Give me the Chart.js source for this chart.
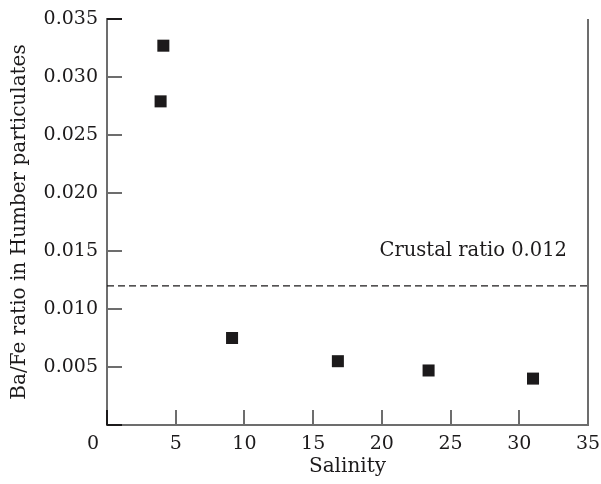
<!DOCTYPE html>
<html>
<head>
<meta charset="utf-8">
<script src="https://cdn.jsdelivr.net/npm/chart.js@4/dist/chart.umd.min.js"></script>
<style>
  html, body { margin: 0; padding: 0; background: #fff; }
  #wrap { width: 601px; height: 484px; }
</style>
</head>
<body>
<div id="wrap"><canvas id="chart"></canvas></div>
<script>
// salinity vs Ba/Fe ratio
const salinity = [4.1, 3.9, 9.1, 16.8, 23.4, 31.0]
const baFeRatio = [0.0327, 0.0279, 0.0075, 0.0055, 0.0047, 0.0040]
const crustalRatio = 0.012
const crustalLabel = 'Crustal ratio 0.012'
const xTicks = [0, 5, 10, 15, 20, 25, 30, 35]
const yTicks = [0, 0.005, 0.010, 0.015, 0.020, 0.025, 0.030, 0.035]

const ink = '#1c1a1b'
const axisGrey = '#6d6d6d'
const tickFont = { family: 'DejaVu Serif', size: 19 }
const titleFont = { family: 'DejaVu Serif', size: 20 }

// inside tick marks, right-hand frame line, corner "0" and the crustal label
const framePlugin = {
  id: 'frame',
  afterDraw(chart) {
    const { ctx, chartArea: a, scales: { x, y } } = chart
    ctx.save()
    ctx.lineWidth = 2
    yTicks.forEach(v => {
      const py = Math.round(y.getPixelForValue(v))
      ctx.strokeStyle = (v === 0 || v === 0.035) ? ink : axisGrey
      ctx.beginPath()
      ctx.moveTo(a.left, py)
      ctx.lineTo(a.left + 15, py)
      ctx.stroke()
    })
    xTicks.forEach(v => {
      const px = Math.round(x.getPixelForValue(v))
      ctx.strokeStyle = v === 0 ? ink : axisGrey
      ctx.beginPath()
      ctx.moveTo(px, a.bottom)
      ctx.lineTo(px, a.bottom - 15)
      ctx.stroke()
    })
    ctx.strokeStyle = axisGrey
    ctx.beginPath()
    ctx.moveTo(a.right, a.top)
    ctx.lineTo(a.right, a.bottom)
    ctx.stroke()

    ctx.fillStyle = ink
    ctx.textBaseline = 'middle'
    ctx.font = `${tickFont.size}px ${tickFont.family}`
    ctx.textAlign = 'center'
    ctx.fillText('0', x.getPixelForValue(0) - 14, a.bottom + 19)

    ctx.font = `19.5px ${titleFont.family}`
    ctx.textAlign = 'right'
    ctx.fillText(crustalLabel, a.right - 21, y.getPixelForValue(crustalRatio + 0.0030))
    ctx.restore()
  }
}

new Chart(document.getElementById('chart'), {
  type: 'scatter',
  data: {
    datasets: [
      {
        data: salinity.map((s, i) => ({ x: s, y: baFeRatio[i] })),
        pointStyle: 'rect',
        pointRadius: 8.5,
        pointHoverRadius: 8.5,
        backgroundColor: ink,
        borderColor: ink,
        borderWidth: 0
      },
      {
        type: 'line',
        data: [{ x: 0, y: crustalRatio }, { x: 35, y: crustalRatio }],
        borderColor: ink,
        borderWidth: 1.3,
        borderDash: [7, 4],
        pointRadius: 0
      }
    ]
  },
  options: {
    responsive: true,
    maintainAspectRatio: false,
    animation: false,
    layout: { padding: { top: 19, right: 13, left: 0, bottom: 0 } },
    plugins: { legend: { display: false }, tooltip: { enabled: false } },
    scales: {
      x: {
        type: 'linear',
        min: 0,
        max: 35,
        afterFit: s => { s.height = 59; s.paddingLeft = 0; s.paddingRight = 0 },
        afterBuildTicks: s => { s.ticks = xTicks.map(v => ({ value: v })) },
        grid: { display: false, drawTicks: false },
        border: { display: true, color: axisGrey, width: 2 },
        ticks: { color: ink, font: tickFont, padding: 8, callback: v => v === 0 ? '' : String(v) },
        title: { display: true, text: 'Salinity', color: ink, font: titleFont, padding: { top: 0, bottom: 5 } }
      },
      y: {
        type: 'linear',
        min: 0,
        max: 0.035,
        afterFit: s => { s.width = 107; s.paddingTop = 0; s.paddingBottom = 0 },
        afterBuildTicks: s => { s.ticks = yTicks.map(v => ({ value: v })) },
        grid: { display: false, drawTicks: false },
        border: { display: true, color: axisGrey, width: 2 },
        ticks: { color: ink, font: tickFont, padding: 9, callback: v => v === 0 ? '' : v.toFixed(3) },
        title: { display: true, text: 'Ba/Fe ratio in Humber particulates', color: ink, font: titleFont, padding: { top: 8, bottom: 0 } }
      }
    }
  },
  plugins: [framePlugin]
})
</script>
</body>
</html>
